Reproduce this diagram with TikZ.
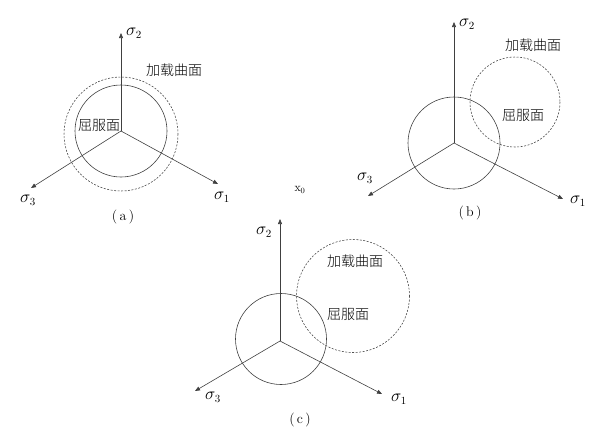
\documentclass[tikz,border=0pt]{standalone}
\usepackage{fontspec}
\newfontfamily\cjk{Noto Sans CJK SC Light}[Scale=1]
\usetikzlibrary{arrows.meta}
\tikzset{
  axis/.style={draw=black!75, line width=0.6pt, -{Triangle[length=5pt,width=4pt]}},
  yield/.style={draw=black!75, line width=0.6pt},
  load/.style={draw=black!75, line width=0.55pt, dash pattern=on 2pt off 1.5pt},
  cjklab/.style={font=\cjk\fontsize{14}{16}\selectfont, inner sep=0pt},
  siglab/.style={font=\fontsize{16}{18}\selectfont, inner sep=0pt},
  caplab/.style={font=\fontsize{14}{16}\selectfont, inner sep=0pt}
}
\begin{document}
\begin{tikzpicture}[x=1pt,y=-1pt]
\useasboundingbox (0,0) rectangle (593,431);
% ---------- (a)
\coordinate (oa) at (121,131);
\coordinate (a1) at (218,184);
\coordinate (a2) at (121,33);
\coordinate (a3) at (31,188);
\draw[load] (121,134) circle[radius=57];
\draw[yield] (oa) circle[radius=46];
\draw[axis] (oa) -- (a1);
\draw[axis] (oa) -- (a2);
\draw[axis] (oa) -- (a3);
\node[siglab] (sa1) at (222,197) {$\sigma_1$};
\node[siglab] (sa2) at (134,33) {$\sigma_2$};
\node[siglab] (sa3) at (28,200) {$\sigma_3$};
\node[cjklab] (la) at (174,70) {加载曲面};
\node[cjklab] (ya) at (99,125) {屈服面};
\node[caplab] (ca) at (123,217) {(\,a\,)};
% ---------- x0
\node[font=\fontsize{12}{14}\selectfont, inner sep=0pt] (x0) at (300,190) {x$_0$};
% ---------- (b)
\coordinate (ob) at (454,143);
\coordinate (b1) at (563,199);
\coordinate (b2) at (454,22);
\coordinate (b3) at (368,196);
\draw[load] (515,102) circle[radius=45];
\draw[yield] (ob) circle[radius=46];
\draw[axis] (ob) -- (b1);
\draw[axis] (ob) -- (b2);
\draw[axis] (ob) -- (b3);
\node[siglab] (sb1) at (578,201) {$\sigma_1$};
\node[siglab] (sb2) at (467,24) {$\sigma_2$};
\node[siglab] (sb3) at (365,178) {$\sigma_3$};
\node[cjklab] (lb) at (533,45) {加载曲面};
\node[cjklab] (yb) at (523,115) {屈服面};
\node[caplab] (cb) at (470,213) {(\,b\,)};
% ---------- (c)
\coordinate (oc) at (280,341);
\coordinate (c1) at (382,394);
\coordinate (c2) at (280,219);
\coordinate (c3) at (195,391);
\draw[load] (353,296) circle[radius=56.5];
\draw[yield] (281,339) circle[radius=45.5];
\draw[axis] (oc) -- (c1);
\draw[axis] (oc) -- (c2);
\draw[axis] (oc) -- (c3);
\node[siglab] (sc1) at (399,399) {$\sigma_1$};
\node[siglab] (sc2) at (264,232) {$\sigma_2$};
\node[siglab] (sc3) at (213,397) {$\sigma_3$};
\node[cjklab] (lc) at (355,261) {加载曲面};
\node[cjklab] (yc) at (348,314) {屈服面};
\node[caplab] (cc) at (300,420) {(\,c\,)};
\end{tikzpicture}
\end{document}
